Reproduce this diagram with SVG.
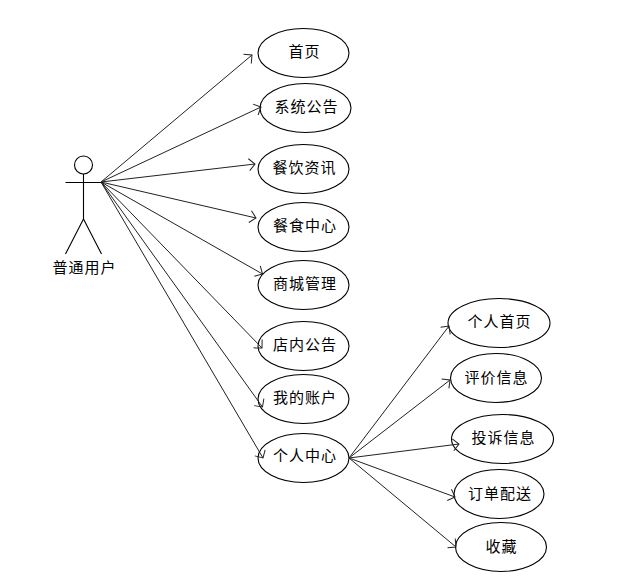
<svg xmlns="http://www.w3.org/2000/svg" width="618" height="582" viewBox="0 0 618 582">
<style>
.n{fill:#fff;stroke:#000;stroke-width:1.1}
.t{font-family:"Noto Sans CJK SC","Liberation Sans",sans-serif;font-size:15px;letter-spacing:1px;fill:#000;text-anchor:middle}
.c{fill:none;stroke:#222;stroke-width:1;marker-end:url(#a)}
.s{fill:none;stroke:#000;stroke-width:1.1}
</style>
<defs><marker id="a" markerUnits="userSpaceOnUse" markerWidth="16" markerHeight="16" refX="13" refY="8" orient="auto"><path d="M7 2L13 8L7 14" fill="none" stroke="#222" stroke-width="1"/></marker></defs>
<rect width="618" height="582" fill="#fff"/>
<g id="n1"><ellipse class="n" cx="303.500" cy="53" rx="45.500" ry="24.500"/><text class="t" x="304.500" y="57">首页</text></g>
<g id="n2"><ellipse class="n" cx="305.500" cy="108" rx="45.500" ry="24.500"/><text class="t" x="306.500" y="112">系统公告</text></g>
<g id="n3"><ellipse class="n" cx="303.500" cy="169" rx="45.500" ry="24.500"/><text class="t" x="304.500" y="173">餐饮资讯</text></g>
<g id="n4"><ellipse class="n" cx="303.500" cy="227" rx="45.500" ry="24.500"/><text class="t" x="305" y="231">餐食中心</text></g>
<g id="n5"><ellipse class="n" cx="303.500" cy="285" rx="45.500" ry="24.500"/><text class="t" x="305" y="289">商城管理</text></g>
<g id="n6"><ellipse class="n" cx="303.500" cy="346" rx="45.500" ry="24.500"/><text class="t" x="305" y="350">店内公告</text></g>
<g id="n7"><ellipse class="n" cx="303.500" cy="399" rx="45.500" ry="24.500"/><text class="t" x="305" y="403">我的账户</text></g>
<g id="n8"><ellipse class="n" cx="303.500" cy="458" rx="45.500" ry="24.500"/><text class="t" x="305" y="461">个人中心</text></g>
<g id="n9"><ellipse class="n" cx="499" cy="323" rx="51" ry="24.500"/><text class="t" x="499.500" y="327">个人首页</text></g>
<g id="n10"><ellipse class="n" cx="496" cy="378" rx="45.500" ry="24.500"/><text class="t" x="496.500" y="383">评价信息</text></g>
<g id="n11"><ellipse class="n" cx="502.500" cy="439" rx="51" ry="24.500"/><text class="t" x="503.500" y="443">投诉信息</text></g>
<g id="n12"><ellipse class="n" cx="499" cy="494" rx="45" ry="24.500"/><text class="t" x="500" y="499">订单配送</text></g>
<g id="n13"><ellipse class="n" cx="501" cy="547" rx="45.500" ry="24.500"/><text class="t" x="501.500" y="552">收藏</text></g>
<g id="actor">
<circle class="s" cx="83.500" cy="165" r="9"/>
<path class="s" d="M65.500 182.500H102M83.500 174V219M83.500 219L65.500 254M83.500 219L101.500 254"/>
<text class="t" x="84.500" y="273">普通用户</text>
</g>
<g id="connectors">
<path class="c" d="M101 182L252 55"/>
<path class="c" d="M101 182L261 107"/>
<path class="c" d="M101 182L255 164"/>
<path class="c" d="M101 182L256 218"/>
<path class="c" d="M101 182L262.500 274"/>
<path class="c" d="M101 182L262 348"/>
<path class="c" d="M101 182L262.500 407"/>
<path class="c" d="M101 182L263 458"/>
<path class="c" d="M349 458L449 326"/>
<path class="c" d="M349 458L450 380"/>
<path class="c" d="M349 458L459 444"/>
<path class="c" d="M349 458L455 497"/>
<path class="c" d="M349 458L456 547"/>
</g>
</svg>
